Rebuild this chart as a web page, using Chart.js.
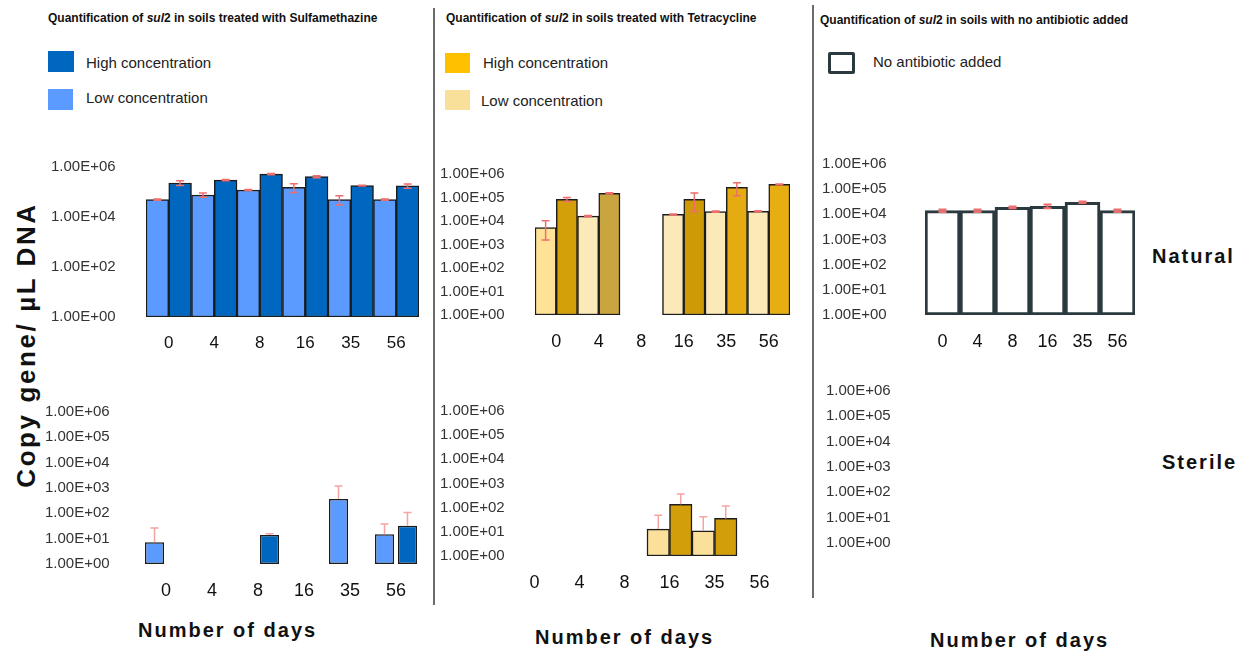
<!DOCTYPE html>
<html>
<head>
<meta charset="utf-8">
<script src="https://cdn.jsdelivr.net/npm/chart.js@4.4.1/dist/chart.umd.min.js"></script>
<style>
body { margin: 0; background: #fff; font-family: "Liberation Sans", Arial, sans-serif; }
#page { position: relative; width: 1238px; height: 654px; overflow: hidden; background: #fff; }
.t { position: absolute; white-space: nowrap; line-height: 1; transform: translateY(-50%); color: #111; }
.title { font-size: 12px; font-weight: bold; }
.leg { font-size: 15px; color: #222; }
.sw { position: absolute; box-sizing: border-box; }
.big { font-size: 20px; font-weight: bold; letter-spacing: 2px; }
.sep { position: absolute; width: 2px; background: #6b6b6b; }
#ytitle { position: absolute; left: 26px; top: 345px; transform: translate(-50%, -50%) rotate(-90deg);
  font-size: 26px; font-weight: bold; letter-spacing: 2.6px; white-space: nowrap; color: #111; line-height: 1; }
canvas { position: absolute; }
</style>
</head>
<body>
<div id="page">
  <div class="t title" style="left:48px; top:18px">Quantification of <i>sul</i>2 in soils treated with Sulfamethazine</div>
  <div class="t title" style="left:446px; top:18px">Quantification of <i>sul</i>2 in soils treated with Tetracycline</div>
  <div class="t title" style="left:820px; top:20px">Quantification of <i>sul</i>2 in soils with no antibiotic added</div>

  <div class="sw" style="left:48px; top:51px; width:26px; height:21px; background:#0067C0"></div>
  <div class="t leg" style="left:86px; top:62px">High concentration</div>
  <div class="sw" style="left:48px; top:89px; width:25px; height:21px; background:#5B9BFF"></div>
  <div class="t leg" style="left:86px; top:97px">Low concentration</div>

  <div class="sw" style="left:445px; top:53px; width:25px; height:20px; background:#FFC000"></div>
  <div class="t leg" style="left:483px; top:62px">High concentration</div>
  <div class="sw" style="left:445px; top:90px; width:25px; height:20px; background:#F9E09A"></div>
  <div class="t leg" style="left:481px; top:100px">Low concentration</div>

  <div class="sw" style="left:828px; top:52px; width:27px; height:22px; border:3px solid #2B3A3E; border-radius:2px"></div>
  <div class="t leg" style="left:873px; top:61px">No antibiotic added</div>

  <div class="sep" style="left:433px; top:8px; height:597px"></div>
  <div class="sep" style="left:812px; top:5px; height:593px"></div>

  <div id="ytitle">Copy gene/ µL DNA</div>
  <div class="t big" style="left:138px; top:630px">Number of days</div>
  <div class="t big" style="left:535px; top:637px">Number of days</div>
  <div class="t big" style="left:930px; top:640px">Number of days</div>
  <div class="t big" style="left:1152px; top:256px">Natural</div>
  <div class="t big" style="left:1162px; top:462px">Sterile</div>
</div>
<script>
const FONT = '"Liberation Sans", Arial, sans-serif';

// jours d'échantillonnage
const days = ['0', '4', '8', '16', '35', '56'];
const yTicksEven = [1, 1e2, 1e4, 1e6];
const yTicksAll = [1, 1e1, 1e2, 1e3, 1e4, 1e5, 1e6];

// Sulfamethazine, natural soil
const sulfaLow = [5.0e4, 7.6e4, 1.2e5, 1.55e5, 5.0e4, 5.0e4];
const sulfaHigh = [2.3e5, 3.0e5, 5.2e5, 4.1e5, 1.8e5, 1.75e5];
const sulfaLowErr = [3e3, 1.5e4, 6e3, 6e4, 2e4, 3e3];
const sulfaHighErr = [5e4, 1.5e4, 2.5e4, 4e4, 8e3, 3.5e4];

// Tetracycline, natural soil (no data on day 8)
const tetraLow = [5.2e3, 1.6e4, null, 1.9e4, 2.5e4, 2.6e4];
const tetraHigh = [8.4e4, 1.5e5, null, 8.4e4, 2.7e5, 3.6e5];
const tetraLowErr = [5e3, 1e3, null, 1e3, 1.5e3, 1.5e3];
const tetraHighErr = [1.6e4, 8e3, null, 7e4, 1.5e5, 1.5e4];

// No antibiotic, natural soil
const controlNat = [1.4e4, 1.4e4, 1.9e4, 2.1e4, 3.0e4, 1.4e4];
const controlNatErr = [1.5e3, 1.5e3, 1.5e3, 3.5e3, 2e3, 1.5e3];

// Sulfamethazine, sterile soil
const sulfaSterLow = [7.2, null, null, null, 370, 15];
const sulfaSterHigh = [null, null, 14, null, null, 32];
const sulfaSterLowErr = [19, null, null, null, 830, 23];
const sulfaSterHighErr = [null, null, 1.5, null, null, 75];

// Tetracycline, sterile soil
const tetraSterLow = [null, null, null, 13, 11, null];
const tetraSterHigh = [null, null, null, 137, 36, null];
const tetraSterLowErr = [null, null, null, 36, 31, null];
const tetraSterHighErr = [null, null, null, 228, 81, null];

const fmtSci = v => {
    const [m, ex] = Number(v).toExponential(2).split('e');
    return m + 'E' + ex[0] + ex.slice(1).padStart(2, '0');
};

// barres d'erreur
const errBars = {
    id: 'errBars',
    afterDatasetsDraw(chart, args, opts) {
        const ctx = chart.ctx;
        const y = chart.scales.y;
        ctx.save();
        ctx.strokeStyle = opts.color;
        ctx.lineWidth = opts.width;
        chart.data.datasets.forEach((ds, i) => {
            if (!ds.errors) return;
            chart.getDatasetMeta(i).data.forEach((bar, j) => {
                const v = ds.data[j], e = ds.errors[j];
                if (v == null || e == null) return;
                const top = y.getPixelForValue(v + e);
                const bot = opts.upperOnly ? bar.y : y.getPixelForValue(Math.max(v - e, v * 0.3));
                const c = opts.cap;
                ctx.beginPath();
                ctx.moveTo(bar.x, top); ctx.lineTo(bar.x, bot);
                ctx.moveTo(bar.x - c, top); ctx.lineTo(bar.x + c, top);
                if (!opts.upperOnly) { ctx.moveTo(bar.x - c, bot); ctx.lineTo(bar.x + c, bot); }
                ctx.stroke();
            });
        });
        ctx.restore();
    }
};

const page = document.getElementById('page');

// box.lab = left edge of the y tick labels
const makePanel = (box, datasets, o) => {
    const yW = box.l - box.lab, xH = 32, padT = 12, padR = 4;
    const w = yW + box.r - box.l + padR, h = padT + box.b - box.t + xH;
    const cv = document.createElement('canvas');
    cv.width = w; cv.height = h;
    cv.style.width = w + 'px'; cv.style.height = h + 'px';
    cv.style.left = box.lab + 'px'; cv.style.top = (box.t - padT) + 'px';
    page.appendChild(cv);
    new Chart(cv.getContext('2d'), {
        type: 'bar',
        data: { labels: days, datasets: datasets },
        plugins: [errBars],
        options: {
            responsive: false,
            animation: false,
            devicePixelRatio: 1,
            layout: { padding: { top: padT, right: padR, left: 0, bottom: 0 } },
            plugins: {
                legend: { display: false },
                tooltip: { enabled: false },
                errBars: o.err
            },
            datasets: { bar: { categoryPercentage: 1, barPercentage: o.barPct || 1, borderSkipped: false } },
            scales: {
                x: {
                    grid: { display: false },
                    border: { display: false },
                    ticks: { padding: 8, maxRotation: 0, autoSkip: false,
                             color: o.hideDays ? 'rgba(0,0,0,0)' : '#111',
                             font: { size: o.xFont || 18, family: FONT } },
                    afterFit: s => { s.height = xH; }
                },
                y: {
                    type: 'logarithmic',
                    min: 1,
                    max: 1e6,
                    grid: { display: false, drawTicks: false },
                    border: { display: false },
                    ticks: { padding: 0, crossAlign: 'far', autoSkip: false, color: '#333',
                             font: { size: 15, family: FONT }, callback: fmtSci },
                    afterBuildTicks: s => { s.ticks = o.yTicks.map(v => ({ value: v })); },
                    afterFit: s => { s.width = yW; }
                }
            }
        }
    });
};

const edge = '#1c1c1c';
const errTop = { color: '#EE6E6E', width: 1.5, cap: 4, upperOnly: false };
const errBottom = { color: '#F5A3A3', width: 1.5, cap: 4, upperOnly: true };

// Sulfamethazine natural
makePanel({ lab: 51, l: 146, r: 419, t: 167, b: 317 }, [
    { data: sulfaLow, errors: sulfaLowErr, backgroundColor: '#5B9BFF', borderColor: edge, borderWidth: 1.5 },
    { data: sulfaHigh, errors: sulfaHighErr, backgroundColor: '#0067C0', borderColor: edge, borderWidth: 1.5 }
], { yTicks: yTicksEven, xFont: 17, err: errTop });

// Tetracycline natural
makePanel({ lab: 440, l: 535, r: 790, t: 174, b: 315 }, [
    { data: tetraLow, errors: tetraLowErr, borderColor: edge, borderWidth: 1.5,
      backgroundColor: ['#FFE296', '#FBE9B8', '#FBE9B8', '#FBE9B8', '#FBE9B8', '#FBE9B8'] },
    { data: tetraHigh, errors: tetraHighErr, borderColor: edge, borderWidth: 1.5,
      backgroundColor: ['#D4A00A', '#C8A53E', '#D4A00A', '#CE9B06', '#E5AC12', '#E7AE12'] }
], { yTicks: yTicksAll, err: errTop });

// No antibiotic natural
makePanel({ lab: 822, l: 925, r: 1135, t: 164, b: 315 }, [
    { data: controlNat, errors: controlNatErr, backgroundColor: '#ffffff', borderColor: '#2B3A3E', borderWidth: 3 }
], { yTicks: yTicksAll, err: { color: '#EE6E6E', width: 2, cap: 4, upperOnly: false } });

// Sulfamethazine sterile
makePanel({ lab: 45, l: 143, r: 419, t: 412, b: 564 }, [
    { data: sulfaSterLow, errors: sulfaSterLowErr, backgroundColor: '#5B9BFF', borderColor: edge, borderWidth: 1.5 },
    { data: sulfaSterHigh, errors: sulfaSterHighErr, backgroundColor: '#0067C0', borderColor: edge, borderWidth: 1.5 }
], { yTicks: yTicksAll, barPct: 0.83, err: errBottom });

// Tetracycline sterile
makePanel({ lab: 440, l: 512, r: 782, t: 411, b: 556 }, [
    { data: tetraSterLow, errors: tetraSterLowErr, backgroundColor: '#FAE09A', borderColor: edge, borderWidth: 1.5 },
    { data: tetraSterHigh, errors: tetraSterHighErr, backgroundColor: '#D29F0A', borderColor: edge, borderWidth: 1.5 }
], { yTicks: yTicksAll, err: errBottom });

// No antibiotic sterile: nothing detected, no day labels
makePanel({ lab: 826, l: 925, r: 1135, t: 391, b: 543 }, [], { yTicks: yTicksAll, hideDays: true, err: errBottom });
</script>
</body>
</html>
